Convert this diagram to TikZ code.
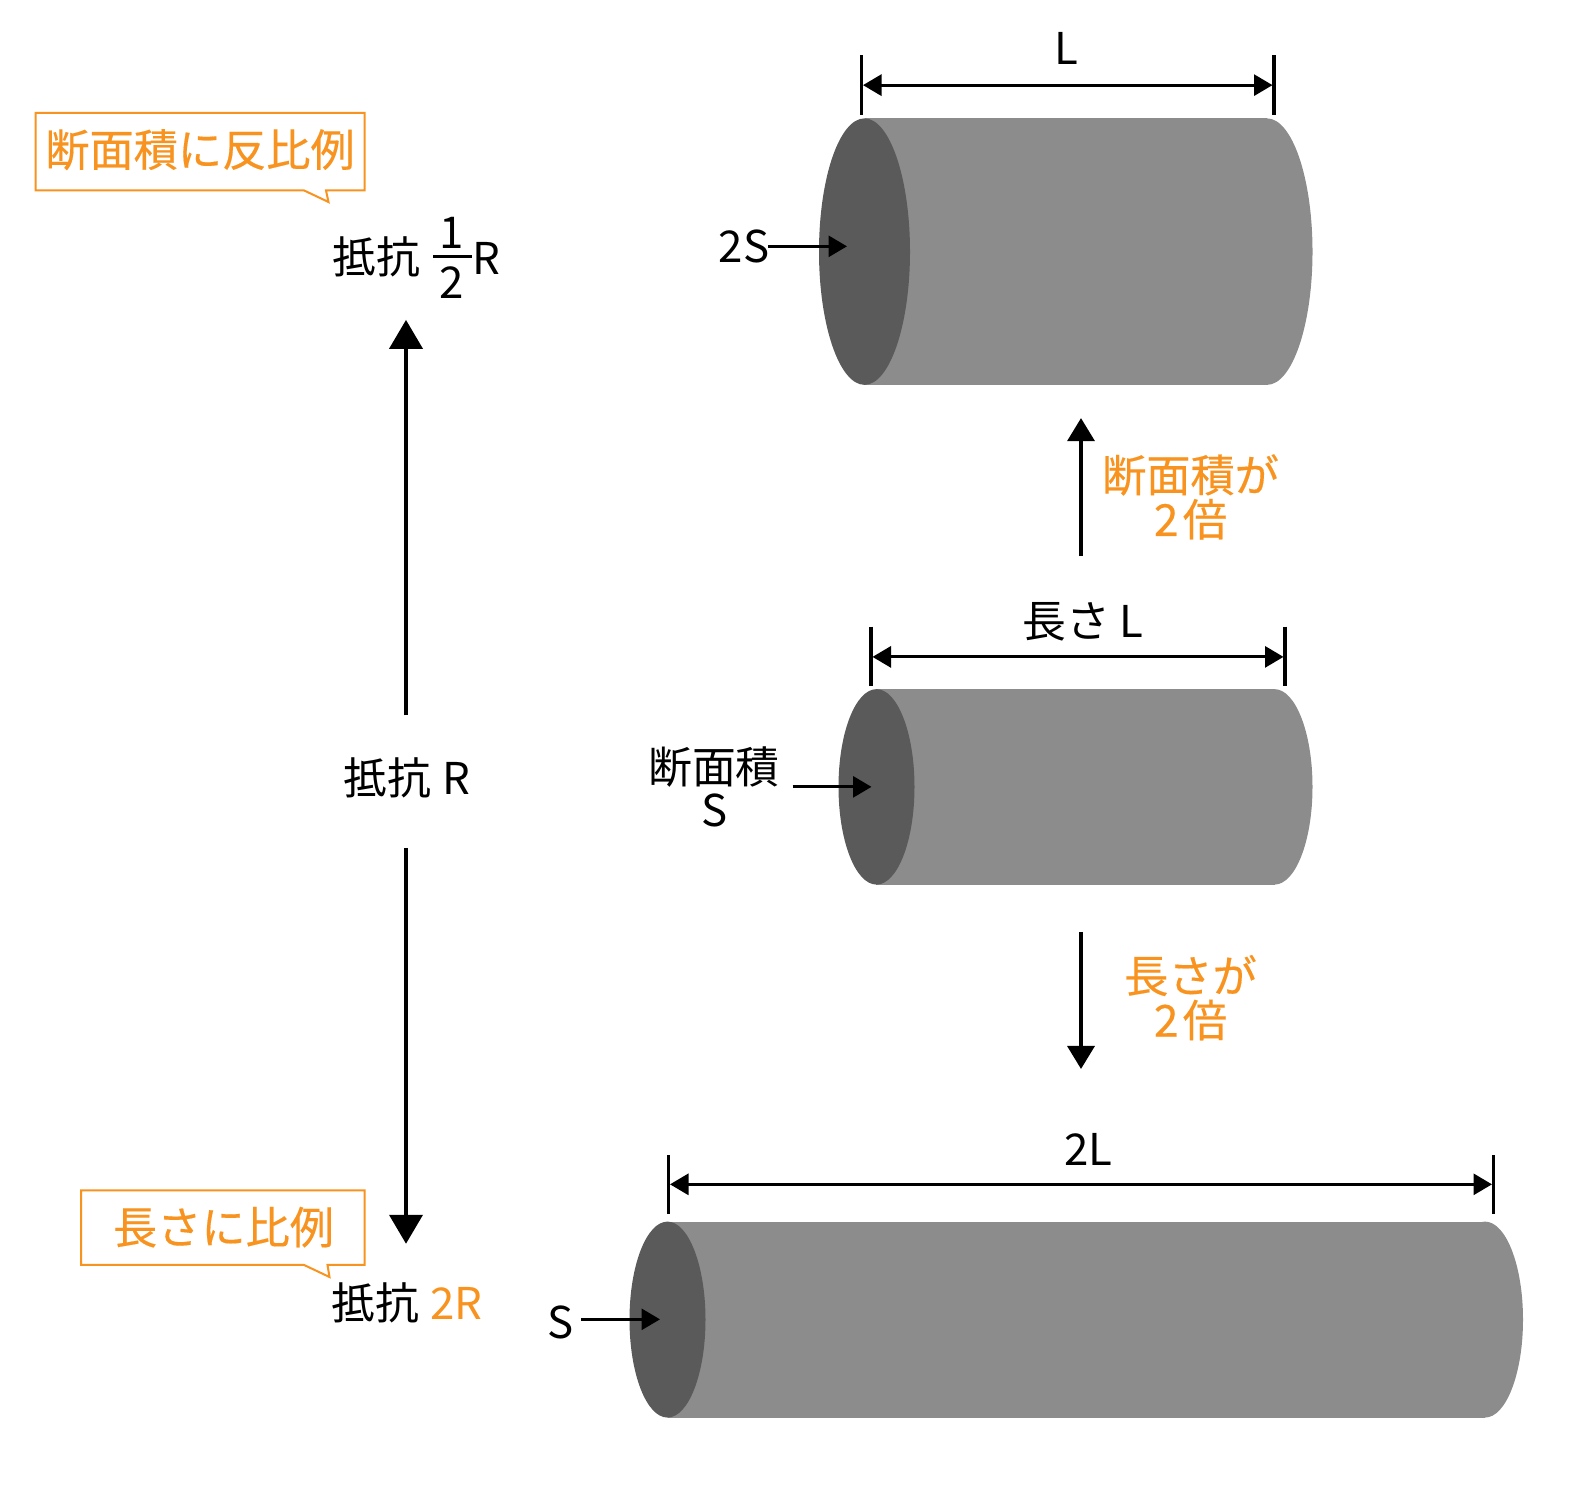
\documentclass[tikz,border=0pt]{standalone}
\usepackage{fontspec}
\setmainfont{Noto Sans CJK JP}
\newfontfamily\ojp[FakeBold=0.35]{Noto Sans CJK JP}
\usetikzlibrary{arrows.meta}
\definecolor{orng}{RGB}{247,147,30}
\definecolor{bodyc}{RGB}{140,140,140}
\definecolor{facec}{RGB}{90,90,90}
\tikzset{
 txt/.style={anchor=base,inner sep=0pt,text=black,font=\fontsize{21.9pt}{26pt}\selectfont},
 otxt/.style={anchor=base,inner sep=0pt,text=orng,font=\ojp\fontsize{22.1pt}{26pt}\selectfont},
 small/.style={draw=black,line width=1.5pt,-{Triangle[length=9.25pt,width=10.5pt]}},
 dimline/.style={draw=black,line width=1.5pt,{Triangle[length=9.25pt,width=10.5pt]}-{Triangle[length=9.25pt,width=10.5pt]}},
 tick/.style={draw=black,line width=1.6pt},
 big/.style={draw=black,line width=2pt,-{Triangle[length=14.5pt,width=16.5pt]}},
 mid/.style={draw=black,line width=1.75pt,-{Triangle[length=11.5pt,width=13.5pt]}},
 callout/.style={draw=orng,line width=1pt,fill=white,line join=miter},
 bodyf/.style={fill=bodyc},
 facef/.style={fill=facec},
}
\begin{document}
\begin{tikzpicture}[x=0.5pt,y=-0.50375pt]
\useasboundingbox (0,0) rectangle (1579,1476);
% top cylinder
\fill[bodyf] (864.5,117.5) rectangle (1267,382);
\fill[bodyf] (1267,249.75) ellipse [x radius=45.5,y radius=132.25];
\fill[facef] (864.5,249.75) ellipse [x radius=45.5,y radius=132.25];
% middle cylinder
\fill[bodyf] (876,684) rectangle (1274.5,878);
\fill[bodyf] (1274.5,781) ellipse [x radius=38,y radius=97];
\fill[facef] (876.5,781) ellipse [x radius=38,y radius=97];
% bottom cylinder
\fill[bodyf] (667.5,1212.5) rectangle (1485,1407);
\fill[bodyf] (1485,1309.75) ellipse [x radius=38,y radius=97.25];
\fill[facef] (667.5,1309.75) ellipse [x radius=38,y radius=97.25];
% top dimension
\coordinate (t1a) at (861.5,55); \coordinate (t1b) at (861.5,114);
\coordinate (t2a) at (1274,55); \coordinate (t2b) at (1274,114);
\coordinate (d1a) at (863,84.5); \coordinate (d1b) at (1272.5,84.5);
\draw[tick] (t1a) -- (t1b); \draw[tick] (t2a) -- (t2b);
\draw[dimline] (d1a) -- (d1b);
\node[txt] (lL) at (1066,64) {L};
% mid dimension
\coordinate (t3a) at (871,622); \coordinate (t3b) at (871,681);
\coordinate (t4a) at (1285,622); \coordinate (t4b) at (1285,681);
\coordinate (d2a) at (872.5,652); \coordinate (d2b) at (1283.5,652);
\draw[tick] (t3a) -- (t3b); \draw[tick] (t4a) -- (t4b);
\draw[dimline] (d2a) -- (d2b);
\node[txt] (lNL) at (1083,633) {長さ\hspace{0.2em}L};
% bottom dimension
\coordinate (t5a) at (668.5,1146.5) ; \coordinate (t5b) at (668.5,1204.5);
\coordinate (t6a) at (1493.5,1146.5); \coordinate (t6b) at (1493.5,1204.5);
\coordinate (d3a) at (670,1175.5); \coordinate (d3b) at (1492,1175.5);
\draw[tick] (t5a) -- (t5b); \draw[tick] (t6a) -- (t6b);
\draw[dimline] (d3a) -- (d3b);
\node[txt] (l2L) at (1088.5,1157) {2L};
% section arrows
\node[txt] (l2S) at (744,260.5) {2S};
\coordinate (a1a) at (768,244.5); \coordinate (a1b) at (847,244.5);
\draw[small] (a1a) -- (a1b);
\node[txt] (lDa) at (714,777.5) {断面積};
\node[txt] (lDb) at (715,820) {S};
\coordinate (a2a) at (792.5,781); \coordinate (a2b) at (871.5,781);
\draw[small] (a2a) -- (a2b);
\node[txt] (lS) at (560.5,1329) {S};
\coordinate (a3a) at (581,1309.5); \coordinate (a3b) at (660,1309.5);
\draw[small] (a3a) -- (a3b);
% centre arrows
\coordinate (m1a) at (1081,552); \coordinate (m1b) at (1081,415);
\draw[mid] (m1a) -- (m1b);
\coordinate (m2a) at (1081,925); \coordinate (m2b) at (1081,1061);
\draw[mid] (m2a) -- (m2b);
\node[otxt] (c1a) at (1190.5,488) {断面積が};
\node[otxt] (c1b) at (1190.5,532) {2\hspace{0.1em}倍};
\node[otxt] (c2a) at (1190.5,985) {長さが};
\node[otxt] (c2b) at (1190.5,1029) {2\hspace{0.1em}倍};
% left arrows
\coordinate (b1a) at (406,710); \coordinate (b1b) at (406,317.5);
\draw[big] (b1a) -- (b1b);
\coordinate (b2a) at (406,841.5); \coordinate (b2b) at (406,1234.5);
\draw[big] (b2a) -- (b2b);
% resistance labels
\node[txt] (r1) at (376.5,271) {抵抗};
\node[txt] (r1n) at (451.5,247) {1};
\node[txt] (r1d) at (451.5,296) {2};
\node[txt] (r1r) at (486,272) {R};
\coordinate (fa) at (433,254.5); \coordinate (fb) at (472,254.5);
\draw[tick] (fa) -- (fb);
\node[txt] (r2) at (407,789) {抵抗\hspace{0.25em}R};
\node[txt] (r3) at (407,1309.5) {抵抗\hspace{0.25em}\textcolor{orng}{2R}};
% callouts
\draw[callout] (35.5,112) -- (364.5,112) -- (364.5,189) -- (326,189) -- (328.5,200.5) -- (304,189) -- (35.5,189) -- cycle;
\node[otxt] (k1) at (200,165) {断面積に反比例};
\draw[callout] (81,1181.5) -- (364.5,1181.5) -- (364.5,1255.5) -- (327.5,1255.5) -- (329.5,1267.5) -- (304,1255.5) -- (81,1255.5) -- cycle;
\node[otxt] (k2) at (223.5,1234.5) {長さに比例};
\end{tikzpicture}
\end{document}
